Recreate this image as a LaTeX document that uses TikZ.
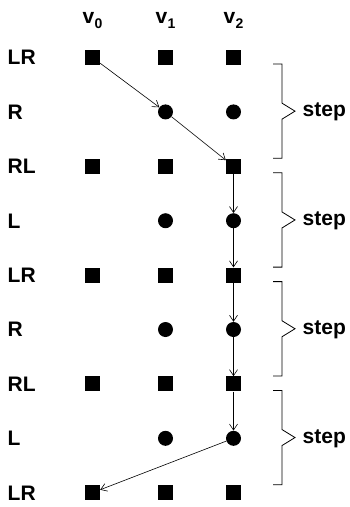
\documentclass[tikz,border=0pt]{standalone}
\usepackage{fontspec}
\setmainfont{Liberation Sans}
\usetikzlibrary{arrows.meta}
\newcommand{\vsub}[1]{v\kern0.5pt\raisebox{-4.5pt}{\fontsize{14}{14}\selectfont #1}}
\tikzset{
  sq/.style={fill=black, draw=none, minimum size=15pt, inner sep=0pt, shape=rectangle},
  dot/.style={fill=black, draw=none, minimum size=15pt, inner sep=0pt, shape=circle},
  lbl/.style={inner sep=0pt, anchor=base west, font=\fontsize{21}{24}\selectfont\bfseries},
  hdr/.style={inner sep=0pt, anchor=base, font=\fontsize{21}{24}\selectfont\bfseries},
  steplbl/.style={inner sep=0pt, anchor=base west, font=\fontsize{21}{24}\selectfont\bfseries},
  conn/.style={line width=0.6pt, -{Straight Barb[length=6pt,width=8pt,line width=0.6pt]}},
  bracestyle/.style={line width=0.8pt, line join=miter}
}
\begin{document}
\begin{tikzpicture}[x=1pt,y=-1pt]
\useasboundingbox (0,0) rectangle (349,507);
% headers
\node[hdr] (h0) at (92.5,23.5) {\vsub{0}};
\node[hdr] (h1) at (165.5,23.5) {\vsub{1}};
\node[hdr] (h2) at (233.5,23.5) {\vsub{2}};
% rows
\foreach \k/\t in {0/LR,1/R,2/RL,3/L,4/LR,5/R,6/RL,7/L,8/LR}{
  \pgfmathsetmacro{\yy}{57.5+54.4*\k}
  \node[lbl] (lab\k) at (7.5,\yy+7.3) {\t};
  \ifodd\k
    \node[dot] (n\k-1) at (165.5,\yy) {};
    \node[dot] (n\k-2) at (233.5,\yy) {};
  \else
    \node[sq] (n\k-0) at (92.5,\yy) {};
    \node[sq] (n\k-1) at (165.5,\yy) {};
    \node[sq] (n\k-2) at (233.5,\yy) {};
  \fi
}
% connectors
\draw[conn] (n0-0) -- (n1-1);
\draw[conn] (n1-1) -- (n2-2);
\draw[conn] (n2-2) -- (n3-2);
\draw[conn] (n3-2) -- (n4-2);
\draw[conn] (n4-2) -- (n5-2);
\draw[conn] (n5-2) -- (n6-2);
\draw[conn] (n6-2) -- (n7-2);
\draw[conn] (n7-2) -- (n8-0);
% braces
\foreach \b in {1,2,3,4}{
  \pgfmathsetmacro{\top}{57.5+54.4*(2*\b-2)+6.5}
  \pgfmathsetmacro{\bot}{57.5+54.4*(2*\b)-8}
  \pgfmathsetmacro{\mid}{(\top+\bot)/2}
  \draw[bracestyle] (273,\top) -- (282,\top) -- (282,\mid-8) -- (295,\mid) -- (282,\mid+8) -- (282,\bot) -- (273,\bot);
  \node[steplbl] (st\b) at (302.5,\mid+5.5) {step};
}
\end{tikzpicture}
\end{document}
